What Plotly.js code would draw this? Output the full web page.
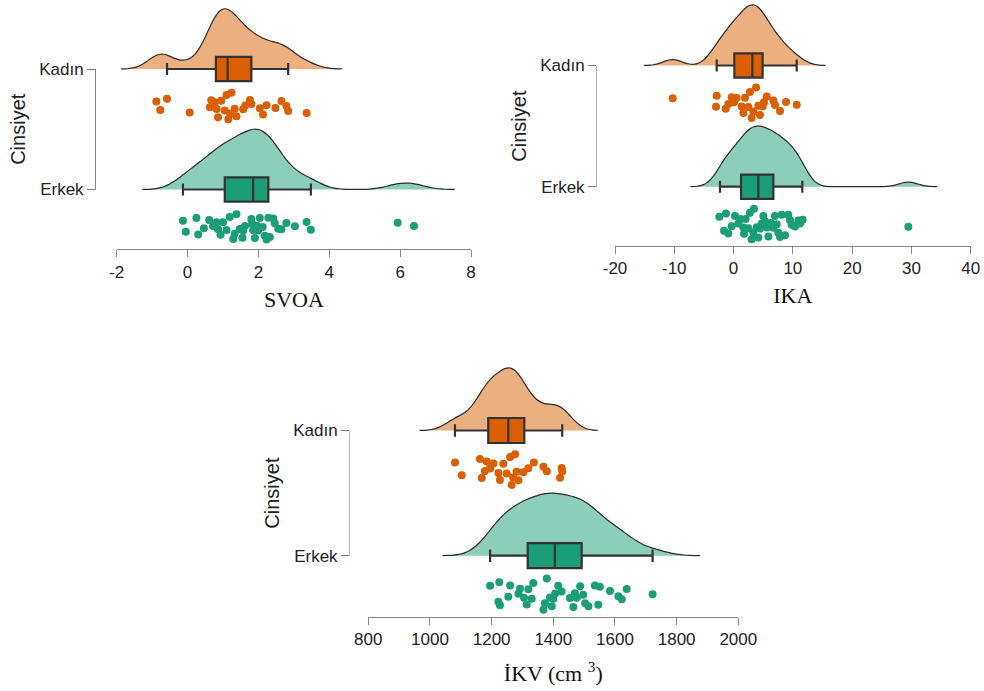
<!DOCTYPE html>
<html><head><meta charset="utf-8">
<script src="https://cdn.plot.ly/plotly-3.0.1.min.js"></script>
<style>html,body{margin:0;padding:0;background:#fff}#chart{width:984px;height:691px}</style>
</head><body><div id="chart"></div>
<script>
// ---------- DATA ----------
const categories = ['Kadın', 'Erkek'];
const yTitle = 'Cinsiyet';
const variableTitles = ['SVOA', 'IKA', 'İKV (cm <sup>3</sup>)'];

const svoaKadin = [-0.88, -0.77, -0.58, 0.06, 0.63, 0.67, 0.72, 0.77, 0.82, 0.86, 0.95, 1.05, 1.10, 1.15, 1.20, 1.24, 1.33, 1.38, 1.57, 1.63, 1.76, 1.80, 2.04, 2.13, 2.23, 2.48, 2.65, 2.79, 2.84, 3.36];
const svoaErkek = [-0.13, -0.05, 0.25, 0.30, 0.46, 0.61, 0.72, 0.82, 0.86, 0.93, 1.00, 1.10, 1.19, 1.29, 1.33, 1.38, 1.47, 1.55, 1.57, 1.62, 1.80, 1.82, 1.85, 1.90, 1.95, 1.99, 2.04, 2.12, 2.18, 2.23, 2.28, 2.32, 2.42, 2.46, 2.56, 2.65, 2.79, 3.03, 3.36, 3.48, 5.93, 6.39];
const ikaKadin = [-10.27, -2.96, -2.85, -1.33, -0.88, -0.32, 0.07, 0.52, 1.37, 1.65, 1.93, 2.49, 2.77, 3.05, 3.34, 3.79, 4.18, 4.46, 4.91, 5.13, 5.59, 6.71, 6.99, 7.83, 8.85, 10.65];
const ikaErkek = [-2.40, -1.61, -1.28, -0.88, -0.32, 0.24, 0.80, 1.20, 1.65, 1.76, 2.04, 2.49, 2.77, 3.05, 3.34, 3.45, 3.90, 4.18, 4.46, 4.74, 5.02, 5.30, 5.59, 5.87, 6.26, 6.71, 6.99, 7.27, 7.55, 7.83, 8.12, 8.68, 9.24, 9.52, 9.80, 10.36, 10.93, 11.21, 11.66, 29.48];
const ikvKadin = [1081, 1103, 1162, 1168, 1178, 1184, 1195, 1206, 1222, 1227, 1238, 1249, 1260, 1265, 1270, 1276, 1281, 1287, 1303, 1319, 1337, 1368, 1379, 1422, 1427, 1429];
const ikvErkek = [1195, 1222, 1225, 1227, 1254, 1260, 1287, 1292, 1305, 1314, 1319, 1330, 1335, 1368, 1373, 1379, 1389, 1395, 1400, 1406, 1416, 1427, 1454, 1465, 1470, 1476, 1487, 1497, 1503, 1514, 1535, 1546, 1551, 1584, 1611, 1622, 1638, 1722];

// box statistics [Kadın, Erkek]
const svoaLower = [-0.58, -0.13], svoaQ1 = [0.80, 1.05], svoaMedian = [1.13, 1.85], svoaQ3 = [1.80, 2.28], svoaUpper = [2.84, 3.48];
const ikaLower = [-2.85, -2.29], ikaQ1 = [0.13, 1.26], ikaMedian = [3.17, 4.18], ikaQ3 = [4.90, 6.71], ikaUpper = [10.65, 11.60];
const ikvLower = [1081, 1195], ikvQ1 = [1189, 1317], ikvMedian = [1254, 1405], ikvQ3 = [1306, 1492], ikvUpper = [1429, 1722];

const svoaTicks = [-2, 0, 2, 4, 6, 8];
const ikaTicks = [-20, -10, 0, 10, 20, 30, 40];
const ikvTicks = [800, 1000, 1200, 1400, 1600, 1800, 2000];

// ---------- LAYOUT / STYLE ----------
const W = 984, H = 691;
const boxColors = ['#D95F02', '#1B9E77'];
const violinFill = ['rgba(217,95,2,0.5)', 'rgba(27,158,119,0.5)'];
const sans = 'Liberation Sans, Arial, sans-serif';
const serif = 'Liberation Serif, Times New Roman, serif';

const panels = [
  {xl: 116.7, xr: 471, axisY: 249.3, top: 0, kad: 69, erk: 189.5, brX: 96, standoff: 10,
   data: [svoaKadin, svoaErkek], lower: svoaLower, q1: svoaQ1, med: svoaMedian, q3: svoaQ3, upper: svoaUpper,
   ticks: svoaTicks, bw: [0.33, 0.38]},
  {xl: 615, xr: 970.7, axisY: 246, top: 0, kad: 65.5, erk: 186.7, brX: 597, standoff: 10,
   data: [ikaKadin, ikaErkek], lower: ikaLower, q1: ikaQ1, med: ikaMedian, q3: ikaQ3, upper: ikaUpper,
   ticks: ikaTicks, bw: [1.6, 1.6]},
  {xl: 368.3, xr: 738.3, axisY: 616.7, top: 330, kad: 430.5, erk: 555.7, brX: 350, standoff: 17,
   data: [ikvKadin, ikvErkek], lower: ikvLower, q1: ikvQ1, med: ikvMedian, q3: ikvQ3, upper: ikvUpper,
   ticks: ikvTicks, bw: [38, 51]}
];

const traces = [];
const layout = {
  width: W, height: H, margin: {l: 0, r: 0, t: 0, b: 0},
  paper_bgcolor: '#ffffff', plot_bgcolor: 'rgba(0,0,0,0)',
  showlegend: false, boxmode: 'overlay', violinmode: 'overlay',
  font: {family: sans, color: '#222'}
};

panels.forEach((p, i) => {
  const s = i === 0 ? '' : String(i + 1);
  const d = String(i + 4);
  const u = p.erk - p.kad;
  const yBot = -(p.axisY - p.erk) / u;
  const yTop = 1 + (p.kad - p.top) / u;
  const positions = [1, 0]; // Kadın on top

  for (let g = 0; g < 2; g++) {
    const vals = p.data[g];
    const bw = p.bw[g];
    // density (cloud)
    traces.push({
      type: 'violin', orientation: 'h', x: vals, y0: positions[g], name: categories[g],
      xaxis: 'x' + s, yaxis: 'y' + s,
      side: 'positive', width: 1.0, scalegroup: 'p' + i, scalemode: 'width',
      bandwidth: bw, spanmode: 'manual', span: [Math.min(...vals) - 3 * bw, Math.max(...vals) + 3 * bw],
      points: false, box: {visible: false}, meanline: {visible: false},
      fillcolor: violinFill[g], line: {color: '#2b2b2b', width: 1.2},
      hoverinfo: 'skip'
    });
    // rain (jittered points), box itself invisible
    traces.push({
      type: 'box', orientation: 'h', x: vals, y0: positions[g], name: categories[g],
      xaxis: 'x' + s, yaxis: 'y' + s,
      boxpoints: 'all', jitter: 0.46, pointpos: -1, width: 0.6,
      fillcolor: 'rgba(0,0,0,0)', line: {color: 'rgba(0,0,0,0)', width: 0},
      marker: {color: boxColors[g], size: 8, line: {width: 0}}
    });
    // box plot
    traces.push({
      type: 'box', orientation: 'h', x: [vals], y: [positions[g]], name: categories[g],
      xaxis: 'x' + s, yaxis: 'y' + s,
      q1: [p.q1[g]], median: [p.med[g]], q3: [p.q3[g]],
      lowerfence: [p.lower[g]], upperfence: [p.upper[g]],
      boxpoints: false, width: 0.2, whiskerwidth: 0.5,
      fillcolor: boxColors[g], line: {color: '#333333', width: 2.2}
    });
  }
  // dummy trace for the bracket y-axis
  traces.push({type: 'scatter', mode: 'markers', x: [0.5], y: [0.5], xaxis: 'x' + d, yaxis: 'y' + d,
    marker: {opacity: 0}, hoverinfo: 'skip'});

  layout['xaxis' + s] = {
    domain: [p.xl / W, p.xr / W], anchor: 'y' + s,
    range: [p.ticks[0], p.ticks[p.ticks.length - 1]], tickvals: p.ticks, ticktext: p.ticks.map(String),
    showline: true, linecolor: '#8a8a8a', linewidth: 1,
    ticks: 'outside', ticklen: 7, tickwidth: 1, tickcolor: '#8a8a8a',
    tickfont: {family: sans, size: 17, color: '#222'},
    showgrid: false, zeroline: false, fixedrange: true,
    title: {text: variableTitles[i], font: {family: serif, size: 22, color: '#111'}, standoff: p.standoff}
  };
  layout['yaxis' + s] = {
    domain: [1 - p.axisY / H, 1 - p.top / H], anchor: 'x' + s,
    range: [yBot, yTop], visible: false, fixedrange: true
  };
  layout['xaxis' + d] = {domain: [p.brX / W, p.xr / W], anchor: 'y' + d, range: [0, 1], visible: false, fixedrange: true};
  layout['yaxis' + d] = {
    domain: [1 - p.erk / H, 1 - p.kad / H], anchor: 'x' + d,
    range: [0, 1], tickvals: [1, 0], ticktext: categories,
    showline: true, linecolor: i === 0 ? '#8a8a8a' : '#b5b5b5', linewidth: 1,
    ticks: 'outside', ticklen: 8, tickcolor: '#777', tickwidth: 1,
    tickfont: {family: sans, size: 17, color: '#222'},
    showgrid: false, zeroline: false, fixedrange: true,
    title: {text: yTitle, font: {family: sans, size: 20, color: '#222'}, standoff: 8}
  };
});

Plotly.newPlot('chart', traces, layout, {staticPlot: true, displayModeBar: false});
</script>
</body></html>
